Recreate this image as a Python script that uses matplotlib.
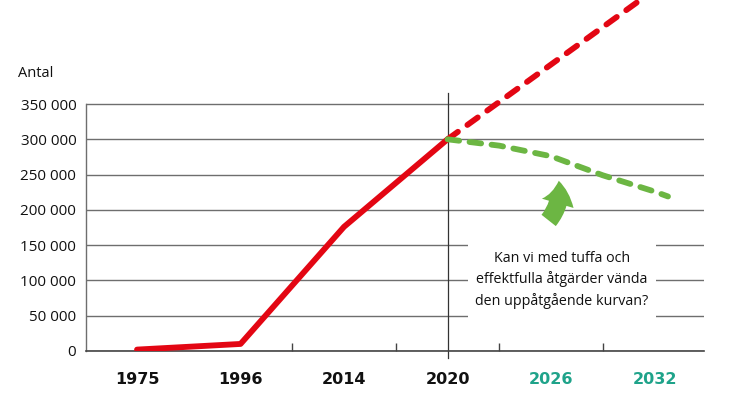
#!/usr/bin/env python3
"""Antal över tid: faktisk utveckling, trend och önskad vändning."""

import matplotlib.pyplot as plt
from matplotlib.patches import FancyArrowPatch, Rectangle

YEARS = ["1975", "1996", "2014", "2020", "2026", "2032"]
YEAR_COLORS = ["#111111", "#111111", "#111111", "#111111", "#1fa38a", "#1fa38a"]

ACTUAL_POS = [0, 1, 2, 3]
ACTUAL = [2000, 10000, 176000, 300000]

TREND_POS = [3, 4, 5]
TREND = [300000, 406000, 512000]

HOPE_POS = [3, 3.5, 4, 4.5, 5, 5.13]
HOPE = [300000, 291000, 276000, 249000, 226000, 219000]

Y_TICKS = [0, 50000, 100000, 150000, 200000, 250000, 300000, 350000]

RED = "#e30613"
GREEN = "#6cb643"
GRID = "#6e6e6e"
FONT = "Open Sans"


def main() -> None:
    fig = plt.figure(figsize=(7.36, 3.93), dpi=100)
    ax = fig.add_axes([86 / 736, 42 / 393, 618 / 736, 351 / 393])
    ax.set_xlim(-0.493, 5.478)
    ax.set_ylim(0, 497400)

    for side in ["top", "right"]:
        ax.spines[side].set_visible(False)
    ax.spines["left"].set_bounds(0, 350000)
    ax.spines["left"].set_color(GRID)
    ax.spines["bottom"].set_color("#444444")
    ax.spines["left"].set_linewidth(1.0)
    ax.spines["bottom"].set_linewidth(1.2)

    ax.set_yticks(Y_TICKS)
    ax.set_yticklabels([f"{v:,}".replace(",", " ") for v in Y_TICKS], fontsize=11, family=FONT, color="#111111")
    ax.tick_params(axis="y", length=0, pad=7)
    ax.set_axisbelow(True)
    ax.yaxis.grid(True, color=GRID, linewidth=1.0)

    ax.set_xticks(range(len(YEARS)))
    ax.set_xticklabels(YEARS, fontsize=11.5, fontweight="bold", family="DejaVu Sans")
    for label, color in zip(ax.get_xticklabels(), YEAR_COLORS):
        label.set_color(color)
    ax.tick_params(axis="x", length=0, pad=15)
    ax.set_xticks([1.5, 2.5, 3.5, 4.5], minor=True)
    ax.tick_params(axis="x", which="minor", direction="in", length=6, color="#444444", width=1.0)

    # vertical marker at 2020, runs a bit past the axis
    ax.plot([3, 3], [-10000, 366000], color="#333333", linewidth=0.9, clip_on=False, zorder=2)

    ax.text(-1.15, 393000, "Antal", fontsize=10.5, family=FONT, color="#111111", va="center", ha="left")

    # white patch behind the question
    ax.add_patch(Rectangle((3.198, 36800), 1.816, 127600, facecolor="white", edgecolor="none", zorder=1))
    ax.text(4.106, 101000, "Kan vi med tuffa och\neffektfulla åtgärder vända\nden uppåtgående kurvan?",
            fontsize=10.3, family=FONT, ha="center", va="center", linespacing=1.45, color="#111111", zorder=4)

    ax.plot(ACTUAL_POS, ACTUAL, color=RED, linewidth=4.2, solid_capstyle="round", solid_joinstyle="round", zorder=3)
    ax.plot(TREND_POS, TREND, color=RED, linewidth=4.2, linestyle=(0, (2.2, 2.0)), dash_capstyle="round", zorder=3)
    ax.plot(HOPE_POS, HOPE, color=GREEN, linewidth=4.2, linestyle=(0, (2.0, 1.8)), dash_capstyle="round", zorder=3)

    arrow = FancyArrowPatch((3.96, 182000), (4.07, 245100),
                            arrowstyle="simple,head_length=1.3,head_width=1.9,tail_width=1.05",
                            connectionstyle="arc3,rad=0.25", mutation_scale=12.5,
                            color=GREEN, linewidth=0, zorder=3)
    ax.add_patch(arrow)

    fig.savefig("out.png", dpi=100)
    plt.close(fig)


if __name__ == "__main__":
    main()
